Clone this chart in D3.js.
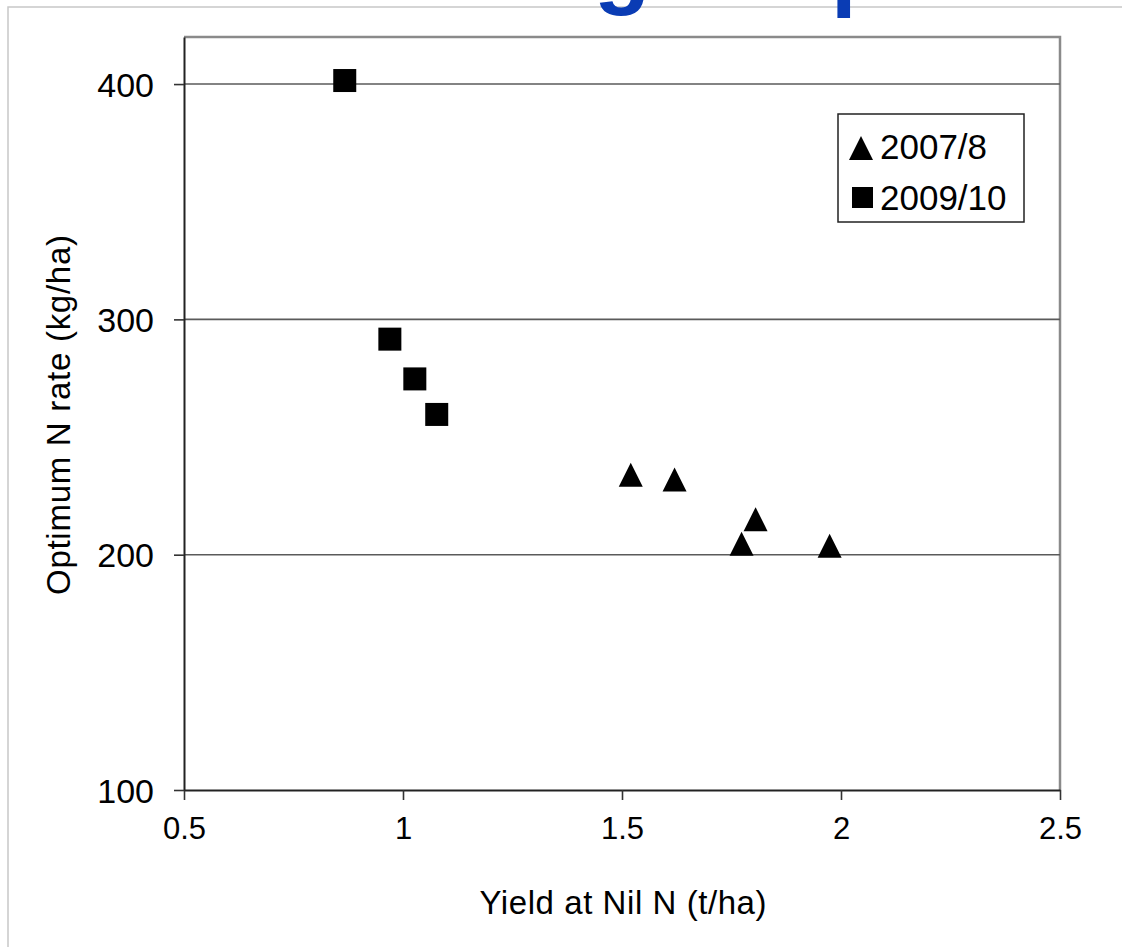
<!DOCTYPE html>
<html>
<head>
<meta charset="utf-8">
<script src="https://cdn.jsdelivr.net/npm/d3@7"></script>
<style>
  body { margin: 0; background: #fff; }
  svg { display: block; font-family: "Liberation Sans", Arial, sans-serif; }
</style>
</head>
<body>
<div class="scatterGraph"></div>
<script>
// data
let seriesNames = ['2007/8', '2009/10'];
let yield0708 = [1.52, 1.62, 1.773, 1.805, 1.974];
let rate0708 = [234, 232, 204.7, 215.1, 203.8];
let yield0910 = [0.867, 0.970, 1.027, 1.077];
let rate0910 = [401.5, 291.6, 274.7, 259.6];
let xTicks = [0.5, 1, 1.5, 2, 2.5];
let yTicks = [100, 200, 300, 400];

let width = 1122;
let height = 947;
let margin = { top: 37, right: 62, bottom: 157, left: 184 };

let svg = d3.select('.scatterGraph')
  .append('svg')
  .attr('width', width)
  .attr('height', height)
  .attr('viewBox', '0 0 ' + width + ' ' + height);

// slide frame
svg.append('rect')
  .attr('x', 8).attr('y', 7)
  .attr('width', width).attr('height', height)
  .attr('fill', 'none')
  .attr('stroke', '#c8c8c8')
  .attr('stroke-width', 1.5);

// cut-off slide title glyphs above the chart (only descenders visible)
svg.append('text')
  .attr('x', 594).attr('y', -3)
  .attr('fill', '#0a3cb4')
  .attr('font-weight', 'bold')
  .attr('font-size', 92)
  .text('g');
svg.append('text')
  .attr('x', 831).attr('y', -1)
  .attr('fill', '#0a3cb4')
  .attr('font-weight', 'bold')
  .attr('font-size', 92)
  .text('p');

let xScale = d3.scaleLinear()
  .domain([0.5, 2.5])
  .range([margin.left, width - margin.right]);

let yScale = d3.scaleLinear()
  .domain([100, 420])
  .range([height - margin.bottom, margin.top]);

let x0 = xScale.range()[0], x1 = xScale.range()[1];
let y0 = yScale.range()[0], y1 = yScale.range()[1];

// top and right border (grey)
svg.append('path')
  .attr('d', 'M' + x0 + ',' + y1 + 'H' + x1 + 'V' + y0)
  .attr('fill', 'none')
  .attr('stroke', '#8a8a8a')
  .attr('stroke-width', 2.5);

// gridlines
svg.append('g')
  .selectAll('line')
  .data(yTicks.filter(function(d) { return d > 100; }))
  .enter().append('line')
  .attr('x1', x0).attr('x2', x1)
  .attr('y1', function(d) { return yScale(d); })
  .attr('y2', function(d) { return yScale(d); })
  .attr('stroke', '#5a5a5a')
  .attr('stroke-width', 1.6);

let xAxis = svg.append('g')
  .attr('transform', 'translate(0,' + y0 + ')')
  .call(d3.axisBottom(xScale).tickValues(xTicks).tickSizeInner(10).tickSizeOuter(0).tickPadding(17)
    .tickFormat(function(d) { return String(d); }));

let yAxis = svg.append('g')
  .attr('transform', 'translate(' + x0 + ',0)')
  .call(d3.axisLeft(yScale).tickValues(yTicks).tickSizeInner(10).tickSizeOuter(0).tickPadding(20));

[xAxis, yAxis].forEach(function(ax) {
  ax.select('.domain').attr('stroke', '#222').attr('stroke-width', 2);
  ax.selectAll('.tick line').attr('stroke', '#333').attr('stroke-width', 1.6);
  ax.selectAll('.tick text')
    .attr('fill', '#000')
    .attr('font-family', '"Liberation Sans", Arial, sans-serif')
    .attr('font-size', 31);
});
yAxis.selectAll('.tick text').attr('dy', '0.36em').attr('font-size', 34);
xAxis.selectAll('.tick text').attr('dy', '0.71em');

// axis titles
svg.append('text')
  .attr('x', (x0 + x1) / 2 + 1)
  .attr('y', 914)
  .attr('text-anchor', 'middle')
  .attr('font-size', 33)
  .attr('textLength', 287)
  .text('Yield at Nil N (t/ha)');

svg.append('text')
  .attr('transform', 'translate(70,' + 415 + ') rotate(-90)')
  .attr('text-anchor', 'middle')
  .attr('font-size', 33)
  .attr('textLength', 360)
  .text('Optimum N rate (kg/ha)');

function trianglePath(cx, cy, s) {
  let h = s;
  return 'M' + cx + ',' + (cy - h / 2) +
    'L' + (cx + s / 2) + ',' + (cy + h / 2) +
    'L' + (cx - s / 2) + ',' + (cy + h / 2) + 'Z';
}

let triData = yield0708.map(function(x, i) { return { x: x, y: rate0708[i] }; });
let sqData = yield0910.map(function(x, i) { return { x: x, y: rate0910[i] }; });

svg.append('g').selectAll('path')
  .data(triData)
  .enter().append('path')
  .attr('d', function(d) { return trianglePath(xScale(d.x), yScale(d.y), 24); })
  .attr('fill', '#000');

svg.append('g').selectAll('rect')
  .data(sqData)
  .enter().append('rect')
  .attr('x', function(d) { return xScale(d.x) - 11.5; })
  .attr('y', function(d) { return yScale(d.y) - 11.5; })
  .attr('width', 23).attr('height', 23)
  .attr('fill', '#000');

// legend
let legend = svg.append('g').attr('transform', 'translate(838,114)');
legend.append('rect')
  .attr('width', 186).attr('height', 108)
  .attr('fill', '#fff')
  .attr('stroke', '#222')
  .attr('stroke-width', 1.5);
legend.append('path')
  .attr('d', trianglePath(23, 34, 24))
  .attr('fill', '#000');
legend.append('rect')
  .attr('x', 14).attr('y', 73).attr('width', 21).attr('height', 21)
  .attr('fill', '#000');
legend.selectAll('text')
  .data(seriesNames)
  .enter().append('text')
  .attr('x', 42)
  .attr('y', function(d, i) { return 45 + i * 51; })
  .attr('font-size', 35)
  .text(function(d) { return d; });
</script>
</body>
</html>
